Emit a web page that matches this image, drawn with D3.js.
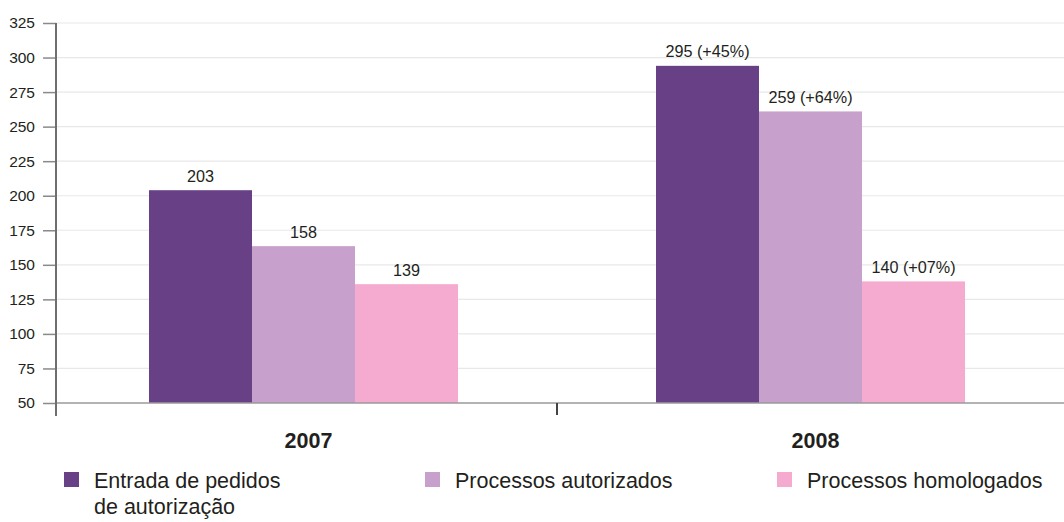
<!DOCTYPE html>
<html><head><meta charset="utf-8">
<script src="https://cdn.jsdelivr.net/npm/d3@7"></script>
<style>
body{margin:0;background:#fff;}
svg{display:block;font-family:"Liberation Sans",Arial,sans-serif;}
</style></head>
<body><svg id="c" width="1064" height="522"></svg>
<script>
const years = ["2007","2008"];
const series = ["Entrada de pedidos de autorização","Processos autorizados","Processos homologados"];
const values2007 = [204, 163.5, 136];
const values2008 = [294, 261, 138];
const labels2007 = ["203","158","139"];
const labels2008 = ["295 (+45%)","259 (+64%)","140 (+07%)"];
const yTicks = [50,75,100,125,150,175,200,225,250,275,300,325];
const colors = ["#684085","#c7a0cb","#f5abcf"];

const svg = d3.select("#c");
const values = {"2007": values2007, "2008": values2008};
const labels = {"2007": labels2007, "2008": labels2008};

const y = d3.scaleLinear().domain([50,325]).range([403,23]);
const x0 = d3.scaleBand().domain(years).range([50,1064]);
const x1 = d3.scaleBand().domain(series).range([0,309]);
const groupOff = (x0.bandwidth()-309)/2;
const axisX = 56;

// gridlines
svg.append("g").selectAll("line").data(yTicks.filter(t=>t>50)).join("line")
  .attr("x1",axisX).attr("x2",1064).attr("y1",d=>y(d)).attr("y2",d=>y(d))
  .attr("stroke","#e8e8e8").attr("stroke-width",1.2);

// bars
const g = svg.append("g");
years.forEach(yr=>{
  series.forEach((s,i)=>{
    const bx = x0(yr)+groupOff+x1(s);
    g.append("rect").attr("x",bx).attr("y",y(values[yr][i]))
     .attr("width",x1.bandwidth()).attr("height",y(50)-y(values[yr][i]))
     .attr("fill",colors[i]);
    g.append("text").attr("x",bx+x1.bandwidth()/2).attr("y",y(values[yr][i])-8.5)
     .attr("text-anchor","middle").attr("font-size","16.2px").attr("fill","#231f20")
     .text(labels[yr][i]);
  });
});

// baseline
svg.append("line").attr("x1",axisX).attr("x2",1064).attr("y1",y(50)).attr("y2",y(50))
  .attr("stroke","#9a9a9a").attr("stroke-width",1.6);

// y axis
const ya = svg.append("g").attr("transform",`translate(${axisX},0)`)
  .call(d3.axisLeft(y).tickValues(yTicks).tickSize(13).tickPadding(8).tickFormat(d3.format("d")));
ya.select(".domain").remove();
ya.selectAll(".tick line").attr("stroke","#8a8a8a").attr("stroke-width",1.5);
ya.selectAll(".tick text").attr("font-size","15.5px").attr("fill","#231f20")
  .attr("font-family","'Liberation Sans',Arial,sans-serif");
svg.append("line").attr("x1",axisX).attr("x2",axisX).attr("y1",y(325)).attr("y2",416)
  .attr("stroke","#6e6e6e").attr("stroke-width",2);

// x tick between groups
svg.append("line").attr("x1",x0("2008")).attr("x2",x0("2008")).attr("y1",y(50)).attr("y2",415)
  .attr("stroke","#444").attr("stroke-width",2);

// year labels
svg.append("g").selectAll("text").data(years).join("text")
  .attr("x",d=>x0(d)+x0.bandwidth()/2+5).attr("y",448)
  .attr("text-anchor","middle").attr("font-weight","bold").attr("font-size","21.5px")
  .attr("fill","#231f20").text(d=>d);

// legend
const legX = [64, 425, 777];
const legLines = [["Entrada de pedidos","de autorização"],["Processos autorizados"],["Processos homologados"]];
series.forEach((s,i)=>{
  const lg = svg.append("g").attr("transform",`translate(${legX[i]},0)`);
  lg.append("rect").attr("x",0).attr("y",472).attr("width",15).attr("height",15).attr("fill",colors[i]);
  const t = lg.append("text").attr("x",30).attr("y",488).attr("font-size","21.5px").attr("fill","#231f20");
  legLines[i].forEach((ln,j)=>{
    t.append("tspan").attr("x",30).attr("dy",j===0?0:26).text(ln);
  });
});
</script></body></html>
